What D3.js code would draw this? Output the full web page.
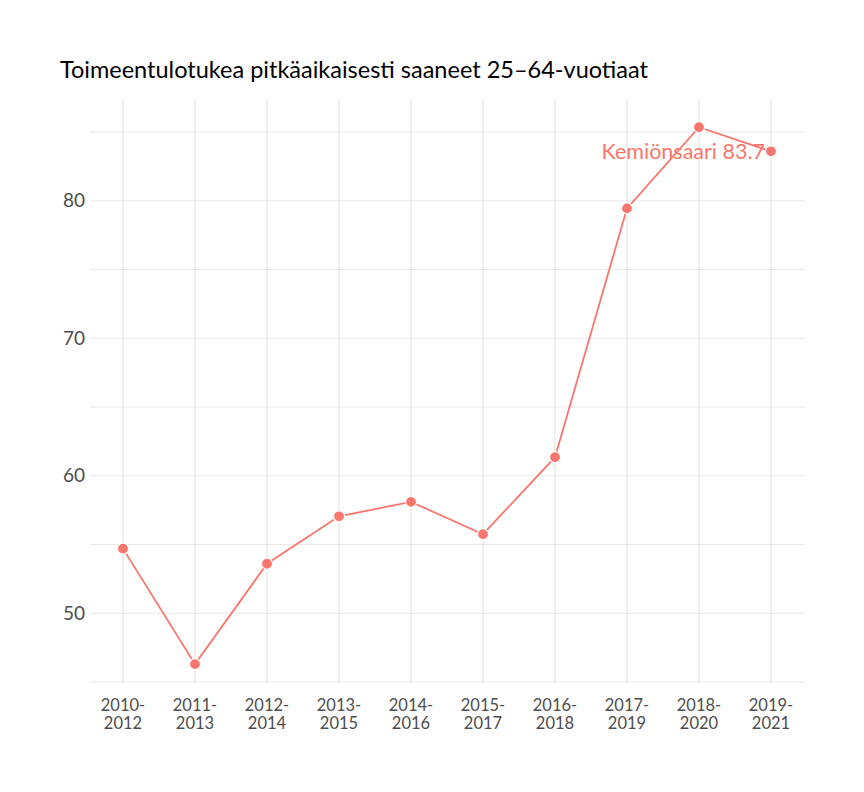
<!DOCTYPE html>
<html><head><meta charset="utf-8">
<script src="https://cdn.jsdelivr.net/npm/d3@7"></script>
<style>body{margin:0;background:#fff;font-family:Lato,sans-serif}</style>
</head><body><svg id="c" width="864" height="792"></svg>
<script>
const periods=["2010-2012","2011-2013","2012-2014","2013-2015","2014-2016","2015-2017","2016-2018","2017-2019","2018-2020","2019-2021"];
const values=[54.7,46.3,53.6,57.05,58.1,55.75,61.35,79.45,85.35,83.6];
const yTicks=[50,60,70,80];
const yMinor=[45,55,65,75,85];
const title="Toimeentulotukea pitkäaikaisesti saaneet 25–64-vuotiaat";
const label="Kemiönsaari 83.7";
const col="#F8766D";
const svg=d3.select("#c");
const L=90,R=805,T=100,B=682;
const x=d3.scalePoint().domain(periods).range([123,771]);
const y=d3.scaleLinear().domain([45,87.33]).range([B,T]);
const g=svg.append("g");
g.selectAll(".gy").data(yTicks.concat(yMinor)).join("line").attr("x1",L).attr("x2",R)
 .attr("y1",d=>y(d)).attr("y2",d=>y(d)).attr("stroke","#e6e6e6").attr("stroke-width",0.9);
g.selectAll(".gx").data(periods).join("line").attr("x1",d=>x(d)).attr("x2",d=>x(d))
 .attr("y1",T).attr("y2",B).attr("stroke","#dcdcdc").attr("stroke-width",0.9);
g.selectAll(".yl").data(yTicks).join("text").attr("x",85).attr("y",d=>y(d)).attr("dy","0.35em")
 .attr("text-anchor","end").attr("font-size",19).attr("fill","#4d4d4d").text(d=>d);
const xl=g.selectAll(".xl").data(periods).join("text").attr("text-anchor","middle").attr("font-size",16.5).attr("fill","#4d4d4d");
xl.append("tspan").attr("x",d=>x(d)).attr("y",711).text(d=>d.split("-")[0]+"-");
xl.append("tspan").attr("x",d=>x(d)).attr("y",729).text(d=>d.split("-")[1]);
const data=periods.map((p,i)=>({p,v:values[i]}));
g.append("path").datum(data).attr("fill","none").attr("stroke",col).attr("stroke-width",1.8)
 .attr("d",d3.line().x(d=>x(d.p)).y(d=>y(d.v)));
g.selectAll(".pt").data(data).join("circle").attr("cx",d=>x(d.p)).attr("cy",d=>y(d.v)).attr("r",5.5)
 .attr("fill",col).attr("stroke","#fff").attr("stroke-width",1.2);
const last=data[data.length-1];
g.append("text").attr("x",x(last.p)-6).attr("y",y(last.v)).attr("dy","0.35em").attr("text-anchor","end")
 .attr("font-size",21.5).attr("fill",col).text(label);
svg.append("text").attr("x",60).attr("y",78).attr("font-size",23.5).attr("fill","#000").text(title);
</script></body></html>
